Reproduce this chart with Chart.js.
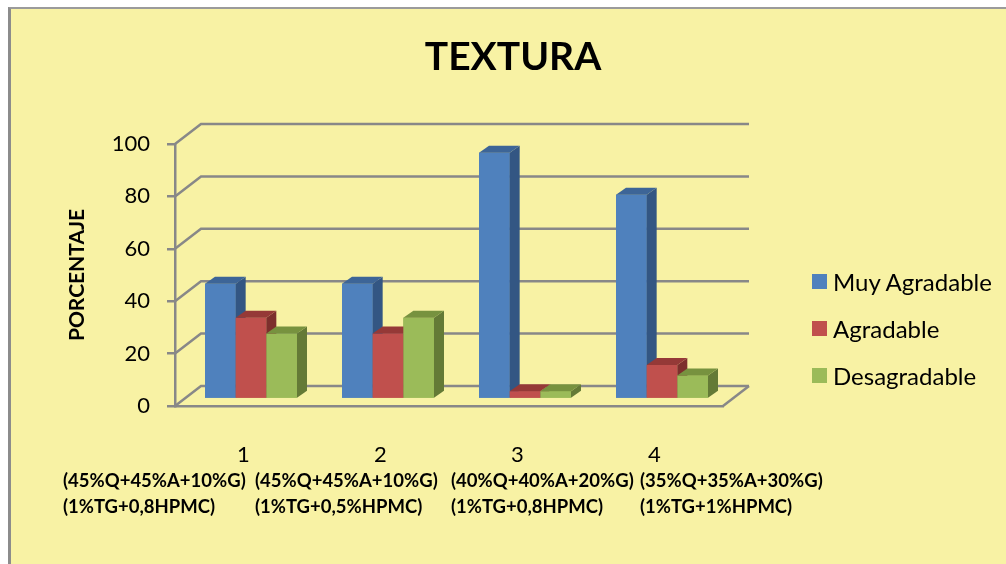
<!DOCTYPE html>
<html>
<head>
<meta charset="utf-8">
<title>Textura</title>
<script src="https://cdn.jsdelivr.net/npm/chart.js@4.4.1/dist/chart.umd.min.js"></script>
<style>
  html, body { margin: 0; padding: 0; background: #ffffff; width: 1006px; height: 564px; overflow: hidden; font-family: Lato, "Open Sans", sans-serif; }
  #frame { position: absolute; left: 8px; top: 7px; width: 995px; height: 555px;
           border-left: 3px solid #8c8c8c; border-top: 2px solid #9b9b9b; background: #F8F2A4; overflow: hidden; }
  #c { position: absolute; left: 0; top: 0; }
  #legend { position: absolute; left: 801px; top: 249px; margin: 0; padding: 0; list-style: none; }
  #legend li { display: flex; align-items: center; height: 47px; font-size: 24px; color: #000; white-space: nowrap; }
  #legend .sw { display: inline-block; width: 15px; height: 15px; margin-right: 6px; }
</style>
</head>
<body>
<div id="frame">
  <canvas id="c" width="995" height="555"></canvas>
  <ul id="legend"></ul>
</div>
<script>
// ---- data ----
const categories   = ['1', '2', '3', '4'];
const seriesNames  = ['Muy Agradable', 'Agradable', 'Desagradable'];
const muyAgradable = [44, 44, 94, 78];
const agradable    = [31, 25, 3, 13];
const desagradable = [25, 31, 3, 9];
const yTicks       = [0, 20, 40, 60, 80, 100];
const formulaLine1 = ['(45%Q+45%A+10%G)', '(45%Q+45%A+10%G)', '(40%Q+40%A+20%G)', '(35%Q+35%A+30%G)'];
const formulaLine2 = ['(1%TG+0,8HPMC)', '(1%TG+0,5%HPMC)', '(1%TG+0,8HPMC)', '(1%TG+1%HPMC)'];

// ---- styling ----
const GRID = '#888888';
const FONT = 'Lato, "Open Sans", sans-serif';
const SHADES = [
  { front: '#4F81BD', top: '#3D6597', side: '#335683' },
  { front: '#C0504D', top: '#953937', side: '#7D2F2D' },
  { front: '#9BBB59', top: '#77923F', side: '#647A36' }
];
// 3D offsets: bars sit a little behind the front plane, walls further back
const BAR_SHIFT = { x: 7.5, y: -7 };
const WALL      = { x: 26,  y: -20 };
const BAR_DEPTH = { x: 10,  y: -7 };
// where the formula captions start, one block per category
const CAPTION_X = [52, 244, 440, 629];
const CAPTION_Y = [472, 498];

function poly(ctx, pts, fill) {
  ctx.beginPath();
  ctx.moveTo(pts[0][0], pts[0][1]);
  for (let i = 1; i < pts.length; i++) ctx.lineTo(pts[i][0], pts[i][1]);
  ctx.closePath();
  ctx.fillStyle = fill;
  ctx.fill();
}

const threeD = {
  id: 'threeD',
  beforeDatasetsDraw(chart) {
    const { ctx, chartArea: a, scales: { y } } = chart;
    ctx.save();
    ctx.strokeStyle = GRID;
    ctx.lineWidth = 2.5;
    // side-wall diagonals and back-wall gridlines
    y.ticks.forEach(t => {
      const py = y.getPixelForValue(t.value);
      ctx.beginPath();
      ctx.moveTo(a.left, py);
      ctx.lineTo(a.left + WALL.x, py + WALL.y);
      ctx.lineTo(a.right + WALL.x, py + WALL.y);
      ctx.stroke();
    });
    // right edge of the floor
    ctx.beginPath();
    ctx.moveTo(a.right, a.bottom);
    ctx.lineTo(a.right + WALL.x, a.bottom + WALL.y);
    ctx.stroke();
    ctx.restore();
    // bars are drawn slightly behind the front plane
    ctx.save();
    ctx.translate(BAR_SHIFT.x, BAR_SHIFT.y);
  },
  afterDatasetsDraw(chart) {
    const ctx = chart.ctx;
    // shade every bar as a box, series by series from left to right,
    // so each bar covers the hidden side of its left neighbour
    for (let i = 0; i < chart.data.datasets.length; i++) {
      const meta = chart.getDatasetMeta(i);
      if (meta.hidden) continue;
      const shade = SHADES[i];
      meta.data.forEach(el => {
        const { x, y, base, width } = el.getProps(['x', 'y', 'base', 'width'], true);
        const l = x - width / 2, r = x + width / 2;
        const t = Math.min(y, base), b = Math.max(y, base);
        const dx = BAR_DEPTH.x, dy = BAR_DEPTH.y;
        poly(ctx, [[l, t], [r, t], [r, b], [l, b]], shade.front);
        poly(ctx, [[r, t], [r + dx, t + dy], [r + dx, b + dy], [r, b]], shade.side);
        poly(ctx, [[l, t], [l + dx, t + dy], [r + dx, t + dy], [r, t]], shade.top);
      });
    }
    ctx.restore();
  },
  afterDraw(chart) {
    const ctx = chart.ctx;
    ctx.save();
    ctx.fillStyle = '#000';
    ctx.font = 'bold 18.5px ' + FONT;
    ctx.textBaseline = 'middle';
    ctx.textAlign = 'left';
    categories.forEach((c, i) => {
      ctx.fillText(formulaLine1[i], CAPTION_X[i], CAPTION_Y[0]);
      ctx.fillText(formulaLine2[i], CAPTION_X[i], CAPTION_Y[1]);
    });
    ctx.restore();
  }
};

const values = [muyAgradable, agradable, desagradable];

const chart = new Chart(document.getElementById('c'), {
  type: 'bar',
  data: {
    labels: categories,
    datasets: seriesNames.map((name, i) => ({
      label: name,
      data: values[i],
      backgroundColor: SHADES[i].front,
      borderWidth: 0,
      yAxisID: 'y',
      categoryPercentage: 0.6715,
      barPercentage: 1
    }))
  },
  options: {
    responsive: false,
    animation: false,
    layout: { padding: { left: 9, right: 0, top: 0, bottom: 0 } },
    plugins: {
      legend: { display: false },
      tooltip: { enabled: false },
      title: {
        display: true,
        text: 'TEXTURA',
        color: '#000',
        font: { family: FONT, size: 39, weight: 'bold' },
        padding: { top: 25.1, bottom: 63.1 }
      }
    },
    scales: {
      x: {
        grid: { display: false },
        border: { display: true, color: GRID, width: 2.5 },
        ticks: { padding: 28, color: '#000', font: { family: FONT, size: 22 } },
        afterFit: s => { s.height = 158; }
      },
      y: {
        min: 0,
        max: 100,
        afterBuildTicks: s => { s.ticks = yTicks.map(v => ({ value: v })); },
        grid: { display: true, drawOnChartArea: false, drawTicks: true, tickLength: 8, color: GRID, lineWidth: 2.5 },
        border: { display: true, color: GRID, width: 2.5 },
        ticks: { padding: 17, color: '#000', font: { family: FONT, size: 22 } },
        title: {
          display: true,
          text: 'PORCENTAJE',
          color: '#000',
          font: { family: FONT, size: 21, weight: 'bold' },
          padding: { top: 45, bottom: 0 }
        },
        afterFit: s => { s.width = 155; }
      },
      gap: {
        axis: 'y',
        type: 'linear',
        position: 'right',
        display: true,
        grid: { display: false },
        border: { display: false },
        ticks: { display: false },
        afterFit: s => { s.width = 283; }
      }
    }
  },
  plugins: [threeD]
});

// legend list in dataset order
const ul = document.getElementById('legend');
chart.data.datasets.forEach(ds => {
  const li = document.createElement('li');
  const sw = document.createElement('span');
  sw.className = 'sw';
  sw.style.background = ds.backgroundColor;
  li.appendChild(sw);
  li.appendChild(document.createTextNode(ds.label));
  ul.appendChild(li);
});
</script>
</body>
</html>
